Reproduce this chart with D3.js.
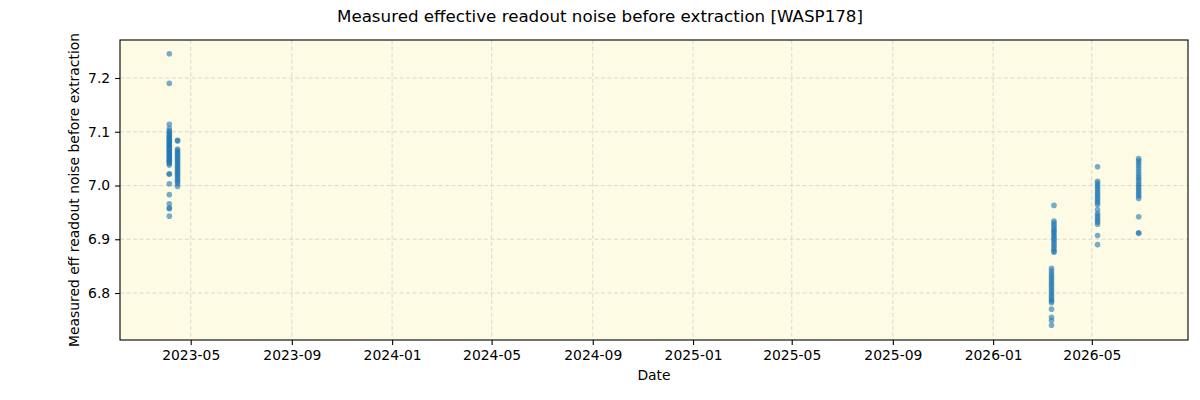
<!DOCTYPE html>
<html>
<head>
<meta charset="utf-8">
<script src="https://cdn.jsdelivr.net/npm/d3@7"></script>
<style>
  body { margin: 0; background: #fff; }
  text { font-family: "DejaVu Sans", sans-serif; fill: #000; }
</style>
</head>
<body>
<svg id="chart" width="1200" height="400"></svg>
<script>
// observation nights and the measured values on each night
const obsDates = ["2023-04-05", "2023-04-15", "2026-03-16", "2026-03-13", "2026-05-08", "2026-06-27"];
const valuesA = [7.245, 7.190, 7.114, 7.106, 7.102, 7.099, 7.096, 7.094, 7.091, 7.089, 7.087, 7.085,
  7.083, 7.081, 7.079, 7.077, 7.075, 7.073, 7.071, 7.069, 7.067, 7.065, 7.063, 7.061, 7.059, 7.057,
  7.055, 7.053, 7.051, 7.049, 7.047, 7.045, 7.043, 7.041, 7.038, 7.022, 7.021, 7.003, 6.983, 6.966,
  6.958, 6.957, 6.943];
const valuesB = [7.084, 7.083, 7.068, 7.065, 7.062, 7.059, 7.056, 7.053, 7.050, 7.047, 7.044, 7.041,
  7.038, 7.035, 7.032, 7.029, 7.026, 7.023, 7.020, 7.017, 7.013, 7.010, 7.007, 7.003, 6.998];
const valuesC1 = [6.963, 6.934, 6.930, 6.926, 6.922, 6.918, 6.915, 6.912, 6.908, 6.905, 6.901, 6.898,
  6.894, 6.890, 6.886, 6.882, 6.878, 6.876];
const valuesC2 = [6.846, 6.841, 6.836, 6.832, 6.828, 6.824, 6.820, 6.816, 6.812, 6.808, 6.804, 6.800,
  6.796, 6.792, 6.788, 6.785, 6.782, 6.770, 6.755, 6.749, 6.740];
const valuesD = [7.035, 7.008, 7.004, 7.000, 6.996, 6.992, 6.988, 6.984, 6.980, 6.976, 6.972, 6.968,
  6.964, 6.955, 6.948, 6.944, 6.940, 6.936, 6.932, 6.928, 6.907, 6.890];
const valuesE = [7.050, 7.046, 7.042, 7.037, 7.032, 7.027, 7.022, 7.017, 7.013, 7.009, 7.004, 7.000,
  6.996, 6.992, 6.988, 6.984, 6.980, 6.976, 6.942, 6.912, 6.911];
const yTicks = [6.8, 6.9, 7.0, 7.1, 7.2];
const xDomain = ["2023-02-04", "2026-08-26"];
const yDomain = [6.7126, 7.2707];

const allValues = [valuesA, valuesB, valuesC1, valuesC2, valuesD, valuesE];
const parse = d3.timeParse("%Y-%m-%d");
let points = [];
obsDates.forEach((d, i) => {
  allValues[i].forEach((v) => points.push({ date: parse(d), value: v }));
});

let margin = { top: 40, right: 12, bottom: 60, left: 120 };
let svgWidth = 1200, svgHeight = 400;
let width = svgWidth - margin.left - margin.right,
  height = svgHeight - margin.top - margin.bottom;

const svg = d3.select("#chart");

let x = d3.scaleTime().domain(xDomain.map(parse)).range([0, width]);
let y = d3.scaleLinear().domain(yDomain).range([height, 0]);

let g = svg.append("g").attr("transform", "translate(" + margin.left + "," + margin.top + ")");

g.append("rect")
  .attr("width", width)
  .attr("height", height)
  .attr("fill", "#fdfbe3");

const xTicks = x.ticks(d3.timeMonth.every(4));

// grid
g.append("g")
  .selectAll("line")
  .data(xTicks)
  .enter()
  .append("line")
  .attr("x1", (d) => x(d)).attr("x2", (d) => x(d))
  .attr("y1", 0).attr("y2", height)
  .attr("stroke", "#d0d0d0").attr("stroke-width", 0.8)
  .attr("stroke-dasharray", "4,2.5");
g.append("g")
  .selectAll("line")
  .data(yTicks)
  .enter()
  .append("line")
  .attr("x1", 0).attr("x2", width)
  .attr("y1", (d) => y(d)).attr("y2", (d) => y(d))
  .attr("stroke", "#d0d0d0").attr("stroke-width", 0.8)
  .attr("stroke-dasharray", "4,2.5");

// points
g.append("g")
  .selectAll("circle")
  .data(points)
  .enter()
  .append("circle")
  .attr("cx", (d) => x(d.date))
  .attr("cy", (d) => y(d.value))
  .attr("r", 2.8)
  .attr("fill", "#1f77b4")
  .attr("fill-opacity", 0.6);

// axes
let xAxis = g.append("g")
  .attr("transform", "translate(0," + height + ")")
  .call(d3.axisBottom(x).tickValues(xTicks).tickFormat(d3.timeFormat("%Y-%m")).tickSize(4.9).tickPadding(4.9));
let yAxis = g.append("g")
  .call(d3.axisLeft(y).tickValues(yTicks).tickFormat(d3.format(".1f")).tickSize(4.9).tickPadding(4.9));

[xAxis, yAxis].forEach((a) => {
  a.select(".domain").remove();
  a.selectAll("line").attr("stroke", "#000").attr("stroke-width", 1.1);
  a.selectAll("text").attr("font-size", "13.9px").attr("font-family", "DejaVu Sans");
});

g.append("rect")
  .attr("width", width)
  .attr("height", height)
  .attr("fill", "none")
  .attr("stroke", "#000")
  .attr("stroke-width", 1.1);

// labels
svg.append("text")
  .attr("x", 600).attr("y", 22)
  .attr("text-anchor", "middle")
  .attr("font-size", "16.7px")
  .text("Measured effective readout noise before extraction [WASP178]");

svg.append("text")
  .attr("x", margin.left + width / 2).attr("y", 380)
  .attr("text-anchor", "middle")
  .attr("font-size", "13.9px")
  .text("Date");

svg.append("text")
  .attr("transform", "translate(79," + (margin.top + height / 2) + ") rotate(-90)")
  .attr("text-anchor", "middle")
  .attr("font-size", "13.9px")
  .text("Measured eff readout noise before extraction");
</script>
</body>
</html>
